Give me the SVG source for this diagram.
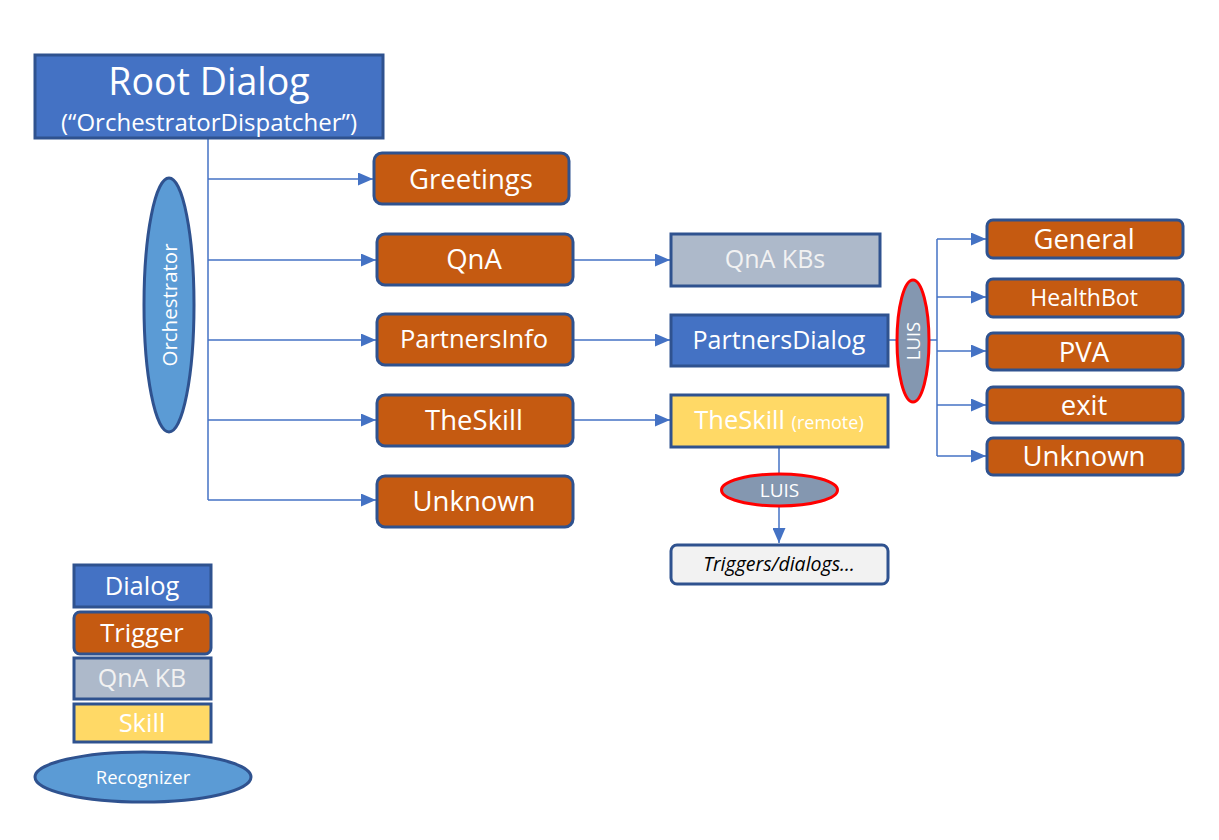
<svg xmlns="http://www.w3.org/2000/svg" width="1219" height="840" viewBox="0 0 1219 840">
<defs>
<style>
.dlg{fill:#4472C4;stroke:#2F528F;stroke-width:3}
.trg{fill:#C55A11;stroke:#2F528F;stroke-width:3}
.kb{fill:#ADB9CA;stroke:#2F528F;stroke-width:3}
.skl{fill:#FFD966;stroke:#2F528F;stroke-width:3}
.rec{fill:#5B9BD5;stroke:#2F528F;stroke-width:3}
.luis{fill:#8497B0;stroke:#FF0000;stroke-width:3}
.gen{fill:#F2F2F2;stroke:#2F528F;stroke-width:3}
text{font-family:"Open Sans","Noto Sans","Liberation Sans",sans-serif;fill:#FFFFFF;text-anchor:middle}
.conn line{stroke:#4472C4;stroke-width:1.5;fill:none}
</style>
<marker id="arr2" viewBox="0 0 10 10" refX="10" refY="5" markerWidth="15" markerHeight="13" markerUnits="userSpaceOnUse" orient="auto" preserveAspectRatio="none">
<path d="M0,0 L10,5 L0,10 z" fill="#4472C4"/>
</marker>
</defs>
<rect width="1219" height="840" fill="#FFFFFF"/>

<g class="conn" id="connectors">
<line x1="208" y1="138" x2="208" y2="500"/>
<line x1="208" y1="179" x2="373" y2="179" marker-end="url(#arr2)"/>
<line x1="208" y1="260" x2="376" y2="260" marker-end="url(#arr2)"/>
<line x1="208" y1="340" x2="376" y2="340" marker-end="url(#arr2)"/>
<line x1="208" y1="420" x2="376" y2="420" marker-end="url(#arr2)"/>
<line x1="208" y1="500" x2="376" y2="500" marker-end="url(#arr2)"/>
<line x1="573" y1="260" x2="670" y2="260" marker-end="url(#arr2)"/>
<line x1="573" y1="340" x2="670" y2="340" marker-end="url(#arr2)"/>
<line x1="573" y1="420" x2="670" y2="420" marker-end="url(#arr2)"/>
<line x1="888" y1="340" x2="897" y2="340"/>
<line x1="929" y1="340" x2="937" y2="340"/>
<line x1="937" y1="239" x2="937" y2="456"/>
<line x1="937" y1="239" x2="986" y2="239" marker-end="url(#arr2)"/>
<line x1="937" y1="297" x2="986" y2="297" marker-end="url(#arr2)"/>
<line x1="937" y1="351" x2="986" y2="351" marker-end="url(#arr2)"/>
<line x1="937" y1="405" x2="986" y2="405" marker-end="url(#arr2)"/>
<line x1="937" y1="456" x2="986" y2="456" marker-end="url(#arr2)"/>
<line x1="779" y1="447" x2="779" y2="474"/>
<line x1="779" y1="506" x2="779" y2="543" marker-end="url(#arr2)"/>
</g>

<g id="root-dialog">
<rect class="dlg" x="35" y="55" width="348" height="83"/>
<text x="209" y="95" font-size="37.5">Root Dialog</text>
<text x="209" y="131" font-size="24">(“OrchestratorDispatcher”)</text>
</g>

<g id="orchestrator">
<ellipse class="rec" cx="169" cy="305" rx="25" ry="127"/>
<text transform="translate(177,305) rotate(-90)" font-size="20.5">Orchestrator</text>
</g>

<g id="greetings">
<rect class="trg" x="374" y="153" width="195" height="51" rx="8"/>
<text x="471" y="189" font-size="27.5">Greetings</text>
</g>
<g id="qna">
<rect class="trg" x="377" y="234" width="196" height="51" rx="8"/>
<text x="474" y="269" font-size="27.5">QnA</text>
</g>
<g id="partnersinfo">
<rect class="trg" x="377" y="314" width="196" height="51" rx="8"/>
<text x="474" y="348" font-size="25.5">PartnersInfo</text>
</g>
<g id="theskill">
<rect class="trg" x="377" y="395" width="196" height="51" rx="8"/>
<text x="474" y="430" font-size="27.5">TheSkill</text>
</g>
<g id="unknown">
<rect class="trg" x="377" y="476" width="196" height="51" rx="8"/>
<text x="474" y="511" font-size="27.5">Unknown</text>
</g>

<g id="qna-kbs">
<rect class="kb" x="671" y="234" width="209" height="52"/>
<text x="775" y="268" font-size="25" style="fill:#F2F2F2">QnA KBs</text>
</g>
<g id="partnersdialog">
<rect class="dlg" x="671" y="315" width="217" height="51"/>
<text x="779" y="349" font-size="25">PartnersDialog</text>
</g>
<g id="theskill-remote">
<rect class="skl" x="671" y="395" width="217" height="52"/>
<text x="779" y="429" font-size="25.5">TheSkill <tspan font-size="18">(remote)</tspan></text>
</g>

<g id="luis-partners">
<ellipse class="luis" cx="913" cy="341" rx="16" ry="61"/>
<text transform="translate(920,341) rotate(-90)" font-size="18.5">LUIS</text>
</g>

<g id="general">
<rect class="trg" x="987" y="220" width="196" height="38" rx="6"/>
<text x="1084" y="249" font-size="27.5">General</text>
</g>
<g id="healthbot">
<rect class="trg" x="987" y="279" width="196" height="38" rx="6"/>
<text x="1084" y="306" font-size="23">HealthBot</text>
</g>
<g id="pva">
<rect class="trg" x="987" y="333" width="196" height="37" rx="6"/>
<text x="1084" y="362" font-size="27.5">PVA</text>
</g>
<g id="exit">
<rect class="trg" x="987" y="387" width="196" height="36" rx="6"/>
<text x="1084" y="415" font-size="27.5">exit</text>
</g>
<g id="unknown-luis">
<rect class="trg" x="987" y="438" width="196" height="37" rx="6"/>
<text x="1084" y="466" font-size="27.5">Unknown</text>
</g>

<g id="luis-skill">
<ellipse class="luis" cx="779.5" cy="490" rx="58" ry="16"/>
<text x="779.5" y="497" font-size="19">LUIS</text>
</g>

<g id="triggers-dialogs">
<rect class="gen" x="671" y="545" width="217" height="39" rx="6"/>
<text x="779" y="571" font-size="19.5" font-style="italic" style="fill:#000000">Triggers/dialogs…</text>
</g>

<g id="legend-dialog">
<rect class="dlg" x="74" y="565" width="137" height="42"/>
<text x="142" y="595" font-size="25.5">Dialog</text>
</g>
<g id="legend-trigger">
<rect class="trg" x="74" y="612" width="137" height="42" rx="6"/>
<text x="142" y="642" font-size="25.5">Trigger</text>
</g>
<g id="legend-qnakb">
<rect class="kb" x="74" y="658" width="137" height="41"/>
<text x="142" y="687" font-size="25" style="fill:#F2F2F2">QnA KB</text>
</g>
<g id="legend-skill">
<rect class="skl" x="74" y="704" width="137" height="38"/>
<text x="142" y="732" font-size="25.5">Skill</text>
</g>
<g id="legend-recognizer">
<ellipse class="rec" cx="143" cy="777" rx="108" ry="25"/>
<text x="143" y="784" font-size="18.5">Recognizer</text>
</g>
</svg>
